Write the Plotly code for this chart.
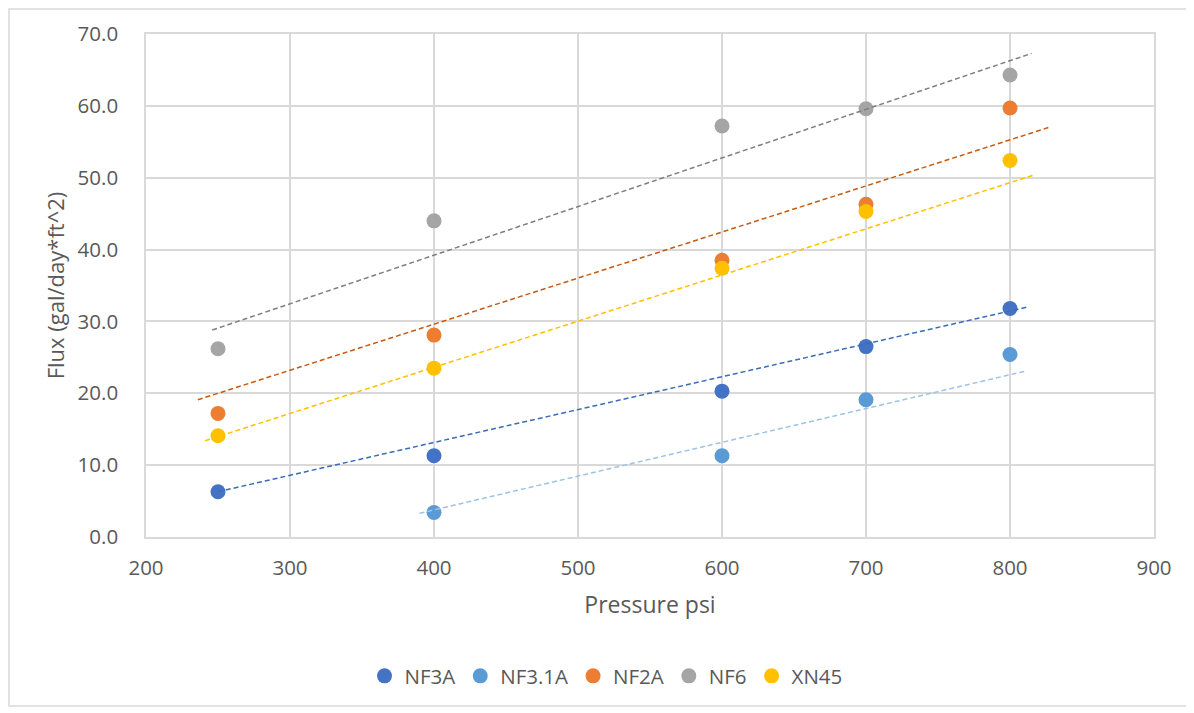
import plotly.graph_objects as go

pressure = [250, 400, 600, 700, 800]

nf3a = [6.3, 11.3, 20.3, 26.5, 31.8]
nf31a = [None, 3.4, 11.3, 19.1, 25.4]
nf2a = [17.2, 28.1, 38.5, 46.3, 59.7]
nf6 = [26.2, 44.0, 57.2, 59.6, 64.3]
xn45 = [14.1, 23.5, 37.4, 45.3, 52.4]

series_names = ["NF3A", "NF3.1A", "NF2A", "NF6", "XN45"]
series_values = [nf3a, nf31a, nf2a, nf6, xn45]

# trendline endpoints: (x_start, x_end), (y_start, y_end)
trend_x = [(250, 812), (390, 811), (236, 827), (246, 815), (241, 817)]
trend_y = [(6.3, 32.0), (3.3, 23.1), (19.1, 57.0), (28.8, 67.3), (13.4, 50.4)]

marker_colors = ["#4472C4", "#5B9BD5", "#ED7D31", "#A5A5A5", "#FFC000"]
trend_colors = ["#3A6DB5", "#9DC3E6", "#C55A11", "#7F7F7F", "#FFC000"]

x_ticks = [200, 300, 400, 500, 600, 700, 800, 900]
y_ticks = [0, 10, 20, 30, 40, 50, 60, 70]

FONT = "Open Sans"
TXT = "#595959"
GRID = "#D9D9D9"

fig = go.Figure()

for name, vals, col in zip(series_names, series_values, marker_colors):
    xs = [p for p, v in zip(pressure, vals) if v is not None]
    ys = [v for v in vals if v is not None]
    fig.add_trace(go.Scatter(
        x=xs, y=ys, mode="markers", name=name,
        marker=dict(color=col, size=15, line=dict(width=0)),
    ))

for tx, ty, col in zip(trend_x, trend_y, trend_colors):
    fig.add_trace(go.Scatter(
        x=list(tx), y=list(ty), mode="lines", showlegend=False,
        line=dict(color=col, width=1.5, dash="5px,3px"),
        hoverinfo="skip",
    ))

# page has an 8px body margin; target page coords: plot 146..1154 x, 34..537 y
OFF = 8
W, H = 1194 - OFF, 713 - OFF
L = 146 - OFF
T = 34 - OFF
R = (OFF + W) - 1154
B = (OFF + H) - 537
pw = W - L - R
ph = H - T - B

fig.update_layout(
    width=W, height=H,
    margin=dict(l=L, r=R, t=T, b=B),
    paper_bgcolor="white", plot_bgcolor="white",
    font=dict(family=FONT, size=20, color=TXT),
    showlegend=True,
    legend=dict(
        orientation="h", x=(606 - 146) / pw, xanchor="center",
        y=-(676 - 537) / ph, yanchor="middle",
        font=dict(family=FONT, size=20.5, color=TXT),
        itemsizing="trace", itemwidth=30, tracegroupgap=0,
    ),
    xaxis=dict(
        range=[200, 900], tickvals=x_ticks, ticktext=[str(v) for v in x_ticks],
        showgrid=True, gridcolor=GRID, gridwidth=1.5,
        showline=True, linecolor=GRID, linewidth=1.5, mirror=True,
        zeroline=False, ticks="", ticklabelstandoff=12,
        tickfont=dict(family=FONT, size=20.5, color=TXT),
        title=dict(text="Pressure psi", font=dict(family=FONT, size=23, color=TXT), standoff=17),
    ),
    yaxis=dict(
        range=[0, 70], tickvals=y_ticks, ticktext=[f"{v:.1f}" for v in y_ticks],
        showgrid=True, gridcolor=GRID, gridwidth=1.5,
        showline=True, linecolor=GRID, linewidth=1.5, mirror=True,
        zeroline=False, ticks="", ticklabelstandoff=22,
        tickfont=dict(family=FONT, size=20.5, color=TXT),
        title=dict(text="Flux (gal/day*ft^2)", font=dict(family=FONT, size=22, color=TXT), standoff=7),
    ),
    shapes=[dict(
        type="rect", xref="paper", yref="paper",
        x0=(9 - 146) / pw, x1=(1187 - 146) / pw,
        y0=-(706 - 537) / ph, y1=(537 - 9) / ph,
        line=dict(color="#D9D9D9", width=1.5), fillcolor="rgba(0,0,0,0)", layer="below",
    )],
)

fig.write_html("out.html")
